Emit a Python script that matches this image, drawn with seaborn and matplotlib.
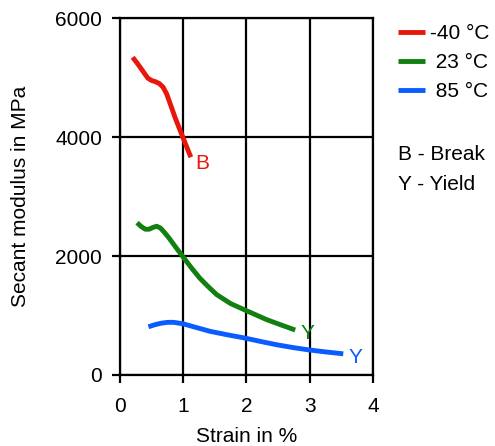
import numpy as np
import pandas as pd
import matplotlib
matplotlib.use("Agg")
import matplotlib.pyplot as plt
import seaborn as sns

# values
strain_m40 = [0.20, 0.28, 0.36, 0.44, 0.50, 0.56, 0.62, 0.68, 0.74, 0.80, 0.87, 0.94, 1.00, 1.06, 1.12]
modulus_m40 = [5340, 5230, 5110, 4990, 4950, 4930, 4900, 4840, 4720, 4540, 4330, 4140, 3980, 3820, 3660]

strain_23 = [0.27, 0.33, 0.40, 0.46, 0.52, 0.58, 0.64, 0.70, 0.77, 0.88, 1.00, 1.13, 1.26, 1.40,
             1.53, 1.75, 1.98, 2.15, 2.32, 2.55, 2.77]
modulus_23 = [2560, 2500, 2450, 2450, 2480, 2500, 2470, 2400, 2310, 2150, 1980, 1800, 1630, 1480,
              1350, 1200, 1090, 1010, 930, 840, 756]

strain_85 = [0.45, 0.55, 0.65, 0.75, 0.85, 1.00, 1.20, 1.42, 1.70, 1.98, 2.23, 2.48, 2.73, 2.97, 3.25, 3.53]
modulus_85 = [810, 845, 870, 885, 885, 860, 800, 735, 675, 620, 562, 508, 462, 424, 388, 356]

temps = ["-40 °C", " 23 °C", " 85 °C"]
colors = ["#e8170c", "#118011", "#0a5cff"]

df = pd.DataFrame({
    "strain": strain_m40 + strain_23 + strain_85,
    "modulus": modulus_m40 + modulus_23 + modulus_85,
    "temp": [temps[0]] * len(strain_m40) + [temps[1]] * len(strain_23) + [temps[2]] * len(strain_85),
})

sns.set_style("ticks")
plt.rcParams["font.family"] = ["Liberation Sans", "DejaVu Sans"]
plt.rcParams.update({"text.color": "black", "axes.labelcolor": "black",
                     "xtick.color": "black", "ytick.color": "black"})

FS = 15

fig = plt.figure(figsize=(4.95, 4.46), dpi=100)
ax = fig.add_axes([0.2424, 0.1592, 0.7535 - 0.2424, 0.9596 - 0.1592])

sns.lineplot(data=df, x="strain", y="modulus", hue="temp", hue_order=temps,
             palette=colors, estimator=None, sort=False, linewidth=3.5, ax=ax,
             solid_joinstyle="round", solid_capstyle="butt")

ax.set_xlim(0, 4)
ax.set_ylim(0, 6000)
ax.set_xticks([0, 1, 2, 3, 4])
ax.set_yticks([0, 2000, 4000, 6000])
ax.grid(True, color="black", linewidth=1.6)
for s in ax.spines.values():
    s.set_visible(True)
    s.set_color("black")
    s.set_linewidth(1.6)
ax.tick_params(direction="out", length=6, width=1.6, labelsize=FS, pad=10)
ax.tick_params(axis="y", pad=7)
ax.set_xlabel("Strain in %", fontsize=FS, labelpad=8)
ax.set_ylabel("Secant modulus in MPa", fontsize=FS, labelpad=18)

# end markers
ax.text(1.19, 3550, "B", color=colors[0], fontsize=FS, ha="left", va="center")
ax.text(2.85, 690, "Y", color=colors[1], fontsize=FS, ha="left", va="center")
ax.text(3.62, 300, "Y", color=colors[2], fontsize=FS, ha="left", va="center")

sns.move_legend(ax, "upper left", bbox_to_anchor=(398 / 495, 1 - 24 / 446),
                bbox_transform=fig.transFigure, frameon=False, title=None,
                fontsize=FS, handlelength=1.3, handletextpad=0.25, labelspacing=0.49,
                borderaxespad=0.0, borderpad=0.0)

fig.text(398 / 495, 1 - 154 / 446, "B - Break", fontsize=FS, ha="left", va="center")
fig.text(398 / 495, 1 - 185 / 446, "Y - Yield", fontsize=FS, ha="left", va="center")

fig.savefig("out.png", dpi=100)
